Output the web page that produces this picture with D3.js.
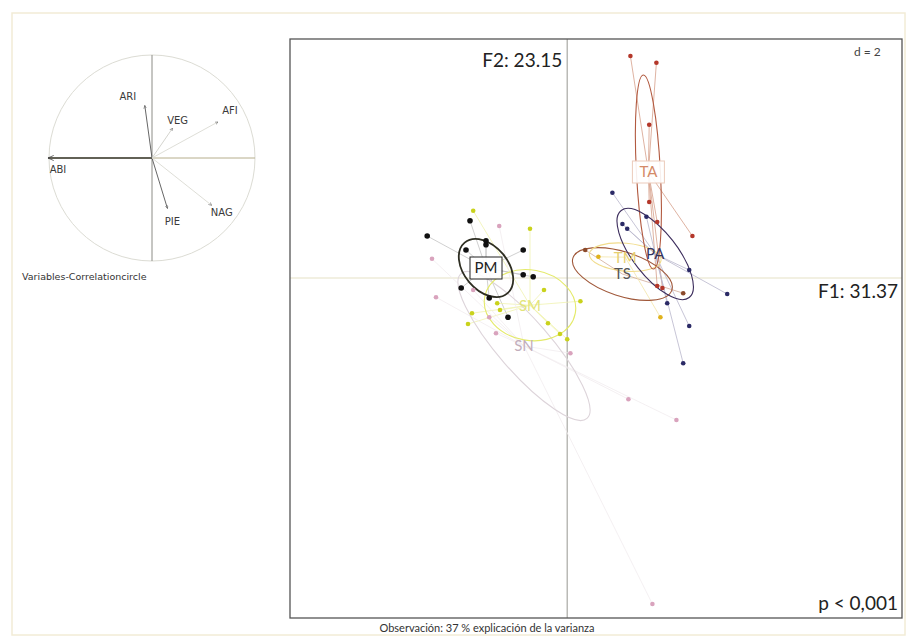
<!DOCTYPE html>
<html>
<head>
<meta charset="utf-8">
<script src="https://cdn.jsdelivr.net/npm/d3@7"></script>
<style>
  body { margin: 0; background: #fff; }
  text { font-family: Lato, "Open Sans", sans-serif; }
</style>
</head>
<body>
<svg id="chart" width="916" height="644"></svg>
<script>
// ---- Variables on the correlation circle ----
const varNames = ["ABI", "ARI", "VEG", "AFI", "PIE", "NAG"];
const varF1 = [-1.01, -0.07, 0.20, 0.64, 0.15, 0.58];
const varF2 = [0.00, 0.51, 0.29, 0.35, -0.49, -0.46];

// ---- Observations (factor scores) and their class ----
const obsF1 = [
  // PM
  -2.43, -3.50, -2.03, -2.03, -2.53, -1.10, -1.10, -0.85, -2.65, -1.48, -1.95,
  // SM
  -2.35, -0.93, -0.58, -1.75, -1.68, 0.33, -2.38, -2.48, -0.48, -0.18, 0.00,
  // SN
  -1.70, -3.38, -2.35, -3.28, -1.95, -1.78, 0.08, 1.53, 2.73, 2.13,
  // TA
  1.58, 2.23, 2.05, 2.05, 2.25, 3.13, 2.25, 2.38,
  // PA
  1.13, 1.38, 1.50, 1.98, 3.05, 4.00, 2.50, 3.05, 2.90,
  // TS
  0.45, 2.90,
  // TM
  0.78, 2.33
];
const obsF2 = [
  1.43, 1.05, 0.93, 0.83, 0.70, 0.70, 0.08, 0.03, -0.25, -0.98, -0.50,
  1.68, 1.23, -0.30, -0.63, -0.80, -0.58, -0.88, -1.15, -1.13, -1.40, -1.53,
  1.30, 0.48, -0.30, -0.48, -0.98, -1.38, -1.88, -3.03, -3.55, -8.15,
  5.55, 5.38, 3.83, 1.90, 1.40, 1.05, -0.20, -0.25,
  2.13, 1.35, 1.23, 1.53, 0.20, -0.40, -0.63, -1.20, -2.13,
  0.70, -0.38,
  0.53, -0.98
];
const obsClass = [
  "PM","PM","PM","PM","PM","PM","PM","PM","PM","PM","PM",
  "SM","SM","SM","SM","SM","SM","SM","SM","SM","SM","SM",
  "SN","SN","SN","SN","SN","SN","SN","SN","SN","SN",
  "TA","TA","TA","TA","TA","TA","TA","TA",
  "PA","PA","PA","PA","PA","PA","PA","PA","PA",
  "TS","TS",
  "TM","TM"
];

// ---- Classes: centre, ellipse half-axes and orientation (degrees) ----
const classNames = ["SN", "SM", "PM", "TS", "TM", "TA", "PA"];
const classF1    = [-1.08, -0.93, -2.03, 1.38, 1.45, 2.03, 2.20];
const classF2    = [-1.70, -0.68,  0.25, 0.10, 0.52, 2.65, 0.60];
const ellipseA   = [ 2.40,  1.15,  0.83, 1.30, 0.90, 2.43, 1.38];
const ellipseB   = [ 0.65,  0.88,  0.55, 0.55, 0.35, 0.30, 0.55];
const ellipseRot = [  -49,   -10,   -50,  -18,   -5,   93,  -52];

// ---- Annotation texts ----
const axisTitleF1 = "F1: 31.37";
const axisTitleF2 = "F2: 23.15";
const gridNote = "d = 2";
const pNote = "p < 0,001";
const caption = "Observación: 37 % explicación de la varianza";
const circleCaption = "Variables-Correlationcircle";

// ---- Styling per class ----
const palette = {
  PM: { pt: "#111111", ell: "#2e2e22", lab: "#222222", box: "#222222", star: "#c4c4c4", boxed: true },
  SM: { pt: "#c9d21c", ell: "#e4ea6a", lab: "#e2e47a", box: "#f1f3c0", star: "#f0f2b0", boxed: false },
  SN: { pt: "#d9a3bd", ell: "#ddd4da", lab: "#c2adbb", box: "#eee6ea", star: "#f1ecef", boxed: false },
  TA: { pt: "#b4372a", ell: "#b25a40", lab: "#d48a68", box: "#eccbbb", star: "#d5a08a", boxed: true },
  PA: { pt: "#2b2a66", ell: "#3b2c5c", lab: "#33335e", box: "#ffffff", star: "#b9b6cc", boxed: false },
  TS: { pt: "#8b4a2b", ell: "#a0583a", lab: "#555555", box: "#ffffff", star: "#d2ab98", boxed: false },
  TM: { pt: "#e0b21c", ell: "#f1dc8c", lab: "#e6cf70", box: "#ffffff", star: "#f3e4a8", boxed: false }
};

const svg = d3.select("#chart");

// faint outer frame of the figure
svg.append("rect")
  .attr("x", 12).attr("y", 13).attr("width", 893).attr("height", 622)
  .attr("fill", "none").attr("stroke", "#f2ecd6").attr("stroke-width", 1.5);

// ================= Correlation circle =================
const cc = { x0: 49, x1: 255, y0: 261, y1: 55 };
const cx = d3.scaleLinear().domain([-1, 1]).range([cc.x0, cc.x1]);
const cy = d3.scaleLinear().domain([-1, 1]).range([cc.y0, cc.y1]);
const circleG = svg.append("g");

circleG.append("circle")
  .attr("cx", cx(0)).attr("cy", cy(0)).attr("r", cx(1) - cx(0))
  .attr("fill", "none").attr("stroke", "#dcdcd4").attr("stroke-width", 1);
circleG.append("line")
  .attr("x1", cx(0)).attr("x2", cx(0)).attr("y1", cy(1)).attr("y2", cy(-1))
  .attr("stroke", "#8c8c86").attr("stroke-width", 1);
circleG.append("line")
  .attr("x1", cx(-1)).attr("x2", cx(1)).attr("y1", cy(0)).attr("y2", cy(0))
  .attr("stroke", "#b6ae8c").attr("stroke-width", 1);

svg.append("defs").append("marker")
  .attr("id", "arrowHead").attr("viewBox", "0 0 10 10")
  .attr("refX", 9).attr("refY", 5)
  .attr("markerWidth", 4).attr("markerHeight", 4)
  .attr("orient", "auto")
  .append("path").attr("d", "M0,1 L9,5 L0,9").attr("fill", "none")
  .attr("stroke", "#444").attr("stroke-width", 1.2);

const varLabelOffset = [[10, 15], [-17, -5], [5, -4], [12, -8], [5, 17], [10, 11]];
const varStroke = ["#3a3a30", "#555555", "#cfcfc8", "#dadad3", "#555555", "#dadad3"];

circleG.selectAll("line.var").data(varNames).join("line")
  .attr("class", "var")
  .attr("x1", cx(0)).attr("y1", cy(0))
  .attr("x2", (d, i) => cx(varF1[i])).attr("y2", (d, i) => cy(varF2[i]))
  .attr("stroke", (d, i) => varStroke[i])
  .attr("stroke-width", (d, i) => i === 0 ? 1.6 : 0.9)
  .attr("marker-end", "url(#arrowHead)");

circleG.selectAll("text.var").data(varNames).join("text")
  .attr("class", "var")
  .attr("x", (d, i) => cx(varF1[i]) + varLabelOffset[i][0])
  .attr("y", (d, i) => cy(varF2[i]) + varLabelOffset[i][1])
  .attr("text-anchor", "middle")
  .attr("fill", "#3a3a3a")
  .style("font-family", "'DejaVu Sans', sans-serif")
  .style("font-size", "10px")
  .text(d => d);

circleG.append("text")
  .attr("x", 22).attr("y", 280)
  .attr("fill", "#333")
  .style("font-family", "'DejaVu Sans', sans-serif")
  .style("font-size", "9.5px")
  .text(circleCaption);

// ================= Factorial map =================
const box = { left: 290, right: 902, top: 39, bottom: 618 };
const x = d3.scaleLinear().domain([-6.93, 8.37]).range([box.left, box.right]);
const y = d3.scaleLinear().domain([-8.5, 5.975]).range([box.bottom, box.top]);
const unit = x(1) - x(0);

const mapG = svg.append("g");
mapG.append("clipPath").attr("id", "mapClip")
  .append("rect").attr("x", box.left).attr("y", box.top)
  .attr("width", box.right - box.left).attr("height", box.bottom - box.top);

const inner = mapG.append("g").attr("clip-path", "url(#mapClip)");

// axes through the origin
inner.append("line")
  .attr("x1", box.left).attr("x2", box.right).attr("y1", y(0)).attr("y2", y(0))
  .attr("stroke", "#e6e1c6").attr("stroke-width", 1.2);
inner.append("line")
  .attr("x1", x(0)).attr("x2", x(0)).attr("y1", box.top).attr("y2", box.bottom)
  .attr("stroke", "#a9a9a4").attr("stroke-width", 1.2);

const classIndex = name => classNames.indexOf(name);

// stars: each observation joined to its class centre
inner.selectAll("line.star").data(obsF1.map((v, i) => i)).join("line")
  .attr("class", "star")
  .attr("x1", i => x(obsF1[i])).attr("y1", i => y(obsF2[i]))
  .attr("x2", i => x(classF1[classIndex(obsClass[i])]))
  .attr("y2", i => y(classF2[classIndex(obsClass[i])]))
  .attr("stroke", i => palette[obsClass[i]].star)
  .attr("stroke-width", 0.8);

// inertia ellipses
inner.selectAll("ellipse.cls").data(classNames).join("ellipse")
  .attr("class", "cls")
  .attr("cx", 0).attr("cy", 0)
  .attr("rx", (d, i) => ellipseA[i] * unit)
  .attr("ry", (d, i) => ellipseB[i] * unit)
  .attr("transform", (d, i) => `translate(${x(classF1[i])},${y(classF2[i])}) rotate(${-ellipseRot[i]})`)
  .attr("fill", "none")
  .attr("stroke", d => palette[d].ell)
  .attr("stroke-width", d => d === "PM" ? 1.8 : 1.1);

// observations
inner.selectAll("circle.obs").data(obsF1.map((v, i) => i)).join("circle")
  .attr("class", "obs")
  .attr("cx", i => x(obsF1[i])).attr("cy", i => y(obsF2[i]))
  .attr("r", i => obsClass[i] === "PM" ? 2.8 : 2.3)
  .attr("fill", i => palette[obsClass[i]].pt);

// class labels: boxes first, texts on top
const labG = inner.selectAll("g.lab").data(classNames).join("g")
  .attr("class", "lab")
  .attr("transform", (d, i) => `translate(${x(classF1[i])},${y(classF2[i])})`);
labG.filter(d => palette[d].boxed).append("rect")
  .attr("x", -16).attr("y", -11).attr("width", 32).attr("height", 22)
  .attr("fill", "#fff").attr("fill-opacity", 0.9)
  .attr("stroke", d => palette[d].box)
  .attr("stroke-width", 1);
inner.selectAll("text.lab").data(classNames).join("text")
  .attr("class", "lab")
  .attr("x", (d, i) => x(classF1[i])).attr("y", (d, i) => y(classF2[i]))
  .attr("text-anchor", "middle").attr("dy", "0.36em")
  .attr("fill", d => palette[d].lab)
  .style("font-size", "15px")
  .text(d => d);

// frame
mapG.append("rect")
  .attr("x", box.left).attr("y", box.top)
  .attr("width", box.right - box.left).attr("height", box.bottom - box.top)
  .attr("fill", "none").attr("stroke", "#555").attr("stroke-width", 1.3);

// annotations
mapG.append("text")
  .attr("x", x(0) - 5).attr("y", box.top + 28)
  .attr("text-anchor", "end").attr("fill", "#222")
  .style("font-size", "19px").text(axisTitleF2);
mapG.append("text")
  .attr("x", box.right - 4).attr("y", y(0) + 20)
  .attr("text-anchor", "end").attr("fill", "#222")
  .style("font-size", "19px").text(axisTitleF1);
mapG.append("text")
  .attr("x", box.right - 48).attr("y", box.top + 17)
  .attr("text-anchor", "start").attr("fill", "#444")
  .style("font-size", "12px").text(gridNote);
mapG.append("text")
  .attr("x", box.right - 4).attr("y", box.bottom - 8)
  .attr("text-anchor", "end").attr("fill", "#222")
  .style("font-size", "19px").text(pNote);
svg.append("text")
  .attr("x", 487).attr("y", box.bottom + 14)
  .attr("text-anchor", "middle").attr("fill", "#333")
  .style("font-size", "11px").text(caption);
</script>
</body>
</html>
